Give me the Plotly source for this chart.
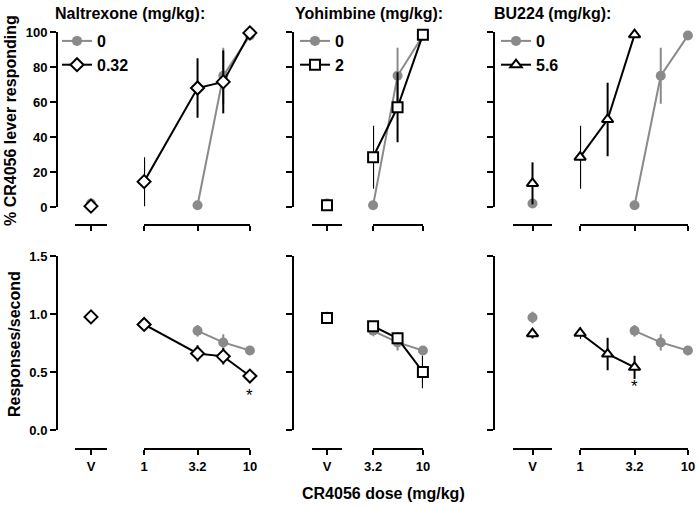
import numpy as np
import plotly.graph_objects as go

# ---------------- DATA ----------------
panel_titles = ["Naltrexone (mg/kg):", "Yohimbine (mg/kg):", "BU224 (mg/kg):"]
legend_ctrl = "0"
legend_treat = ["0.32", "2", "5.6"]

# control (vehicle pretreatment) - same in all panels
ctrl_doses = [3.2, 5.6, 10]
ctrl_pct = [1, 75, 98]
ctrl_pct_err = [0, 16, 0]
ctrl_rate = [0.855, 0.755, 0.685]
ctrl_rate_err = [0.05, 0.07, 0.04]
ctrl_v_pct = 2
ctrl_v_pct_err = 0
ctrl_v_rate = 0.97
ctrl_v_rate_err = 0.05

# Naltrexone 0.32
nal_doses = [1, 3.2, 5.6, 10]
nal_pct = [14.5, 68, 71.5, 99.5]
nal_pct_err = [14, 17, 18, 0]
nal_rate = [0.91, 0.66, 0.635, 0.465]
nal_rate_err = [0.02, 0.07, 0.07, 0.05]
nal_v_pct, nal_v_pct_err = 0.5, 0
nal_v_rate, nal_v_rate_err = 0.975, 0.05

# Yohimbine 2
yoh_doses = [3.2, 5.6, 10]
yoh_pct = [28.5, 57, 98.5]
yoh_pct_err = [18, 20, 0]
yoh_rate = [0.895, 0.79, 0.50]
yoh_rate_err = [0.03, 0.05, 0.14]
yoh_v_pct, yoh_v_pct_err = 1, 0
yoh_v_rate, yoh_v_rate_err = 0.965, 0.04

# BU224 5.6
bu_doses = [1, 1.8, 3.2]
bu_pct = [28.5, 50, 98.5]
bu_pct_err = [18, 21, 0]
bu_rate = [0.835, 0.655, 0.54]
bu_rate_err = [0.05, 0.14, 0.10]
bu_v_pct, bu_v_pct_err = 13.5, 12
bu_v_rate, bu_v_rate_err = 0.83, 0.04

pct_ticks = [0, 20, 40, 60, 80, 100]
rate_ticks = [0.0, 0.5, 1.0, 1.5]
dose_ticks = [[1, 3.2, 10], [3.2, 10], [1, 3.2, 10]]
dose_ticklabels = [["1", "3.2", "10"], ["3.2", "10"], ["1", "3.2", "10"]]
dose_min = [1, 3.2, 1]
dose_max = [10, 10, 10]
# significance marks on the rate row: (panel, dose, y)
sig_marks = [(0, 10, 0.30), (2, 3.2, 0.375)]

treat = [
    dict(doses=nal_doses, pct=nal_pct, pct_err=nal_pct_err, rate=nal_rate, rate_err=nal_rate_err,
         v_pct=nal_v_pct, v_pct_err=nal_v_pct_err, v_rate=nal_v_rate, v_rate_err=nal_v_rate_err),
    dict(doses=yoh_doses, pct=yoh_pct, pct_err=yoh_pct_err, rate=yoh_rate, rate_err=yoh_rate_err,
         v_pct=yoh_v_pct, v_pct_err=yoh_v_pct_err, v_rate=yoh_v_rate, v_rate_err=yoh_v_rate_err),
    dict(doses=bu_doses, pct=bu_pct, pct_err=bu_pct_err, rate=bu_rate, rate_err=bu_rate_err,
         v_pct=bu_v_pct, v_pct_err=bu_v_pct_err, v_rate=bu_v_rate, v_rate_err=bu_v_rate_err),
]

# ---------------- LAYOUT GEOMETRY (pixels) ----------------
W, H = 699, 506
def PX(x): return x / W
def PY(y): return 1 - y / H

yaxis_x = [57, 293, 494]
v_dom = [(75, 107), (312, 342), (513, 552)]
d_dom = [(144, 250), (373, 423), (580, 688)]
row_y = [(32, 207), (256, 430)]      # y-domain pixel (top, bottom)
row_xline = [225, 449]               # x-axis line position
symbols_fill = ["diamond", "square", "triangle-up"]
EPS = 1e-3

GRAY = "#8a8a8a"
BLACK = "#000000"
FONT = "Liberation Sans, Arial, sans-serif"

fig = go.Figure()
layout = {}

def ids(r, p):
    k = r * 3 + p
    yid = k + 1
    xv = 2 * k + 1
    xd = 2 * k + 2
    return yid, xv, xd

for r in range(2):
    for p in range(3):
        yid, xv, xd = ids(r, p)
        yname = "y" if yid == 1 else f"y{yid}"
        xvname = "x" if xv == 1 else f"x{xv}"
        xdname = f"x{xd}"
        t = treat[p]
        if r == 0:
            cv, cve = ctrl_v_pct, ctrl_v_pct_err
            cy, cye = ctrl_pct, ctrl_pct_err
            tv, tve = t["v_pct"], t["v_pct_err"]
            ty, tye = t["pct"], t["pct_err"]
        else:
            cv, cve = ctrl_v_rate, ctrl_v_rate_err
            cy, cye = ctrl_rate, ctrl_rate_err
            tv, tve = t["v_rate"], t["v_rate_err"]
            ty, tye = t["rate"], t["rate_err"]
        leg = "legend" if p == 0 else f"legend{p+1}"
        fig.add_trace(go.Scatter(x=[0], y=[cv], xaxis=xvname, yaxis=yname, mode="markers",
                                 marker=dict(symbol="circle", size=10, color=GRAY),
                                 error_y=dict(type="data", array=[cve], color=GRAY, thickness=2, width=0),
                                 showlegend=False, cliponaxis=False, hoverinfo="skip"))
        fig.add_trace(go.Scatter(x=ctrl_doses, y=cy, xaxis=xdname, yaxis=yname, mode="lines+markers",
                                 line=dict(color=GRAY, width=2),
                                 marker=dict(symbol="circle", size=10, color=GRAY),
                                 error_y=dict(type="data", array=cye, color=GRAY, thickness=2, width=0),
                                 name=legend_ctrl, legend=leg, showlegend=(r == 0),
                                 cliponaxis=False, hoverinfo="skip"))
        fig.add_trace(go.Scatter(x=[0], y=[tv], xaxis=xvname, yaxis=yname, mode="markers",
                                 marker=dict(symbol=symbols_fill[p], size=10, color="white",
                                             line=dict(color=BLACK, width=2)),
                                 error_y=dict(type="data", array=[tve], color=BLACK, thickness=2, width=0),
                                 showlegend=False, cliponaxis=False, hoverinfo="skip"))
        fig.add_trace(go.Scatter(x=t["doses"], y=ty, xaxis=xdname, yaxis=yname, mode="lines+markers",
                                 line=dict(color=BLACK, width=2),
                                 marker=dict(symbol=symbols_fill[p], size=10, color="white",
                                             line=dict(color=BLACK, width=2)),
                                 error_y=dict(type="data", array=tye, color=BLACK, thickness=2, width=0),
                                 name=legend_treat[p], legend=leg, showlegend=(r == 0),
                                 cliponaxis=False, hoverinfo="skip"))

        ytop, ybot = row_y[r]
        yax = dict(domain=[PY(ybot), PY(ytop)], anchor="free", position=PX(yaxis_x[p]),
                   showline=True, linecolor=BLACK, linewidth=2, ticks="outside", ticklen=6,
                   tickwidth=2, tickcolor=BLACK, showgrid=False, zeroline=False,
                   showticklabels=(p == 0), automargin=False,
                   tickfont=dict(family=FONT, size=13, color=BLACK, weight="bold"))
        if r == 0:
            yax.update(range=[0, 100], tickvals=pct_ticks)
        else:
            yax.update(range=[0, 1.5], tickvals=rate_ticks, tickformat=".1f")
        layout["yaxis" if yid == 1 else f"yaxis{yid}"] = yax

        common_x = dict(anchor="free", position=PY(row_xline[r]), showline=True, linecolor=BLACK,
                        linewidth=2, ticks="outside", ticklen=5, tickwidth=2, tickcolor=BLACK,
                        showgrid=False, zeroline=False, showticklabels=(r == 1), automargin=False,
                        ticklabeloverflow="allow",
                        tickfont=dict(family=FONT, size=13, color=BLACK, weight="bold"))
        xvax = dict(common_x, domain=[PX(v_dom[p][0]), PX(v_dom[p][1])], range=[-1, 1],
                    tickvals=[0], ticktext=["V"])
        xdax = dict(common_x, domain=[PX(d_dom[p][0]), PX(d_dom[p][1])], type="log",
                    range=[np.log10(dose_min[p]) - EPS, np.log10(dose_max[p]) + EPS],
                    tickvals=dose_ticks[p], ticktext=dose_ticklabels[p])
        layout["xaxis" if xv == 1 else f"xaxis{xv}"] = xvax
        layout[f"xaxis{xd}"] = xdax

annotations = []
title_x = [53, 293, 492]
for p in range(3):
    annotations.append(dict(text=panel_titles[p], x=PX(title_x[p]), y=PY(14), xref="paper", yref="paper",
                            xanchor="left", yanchor="middle", showarrow=False,
                            font=dict(family=FONT, size=16, color=BLACK, weight="bold")))
for (p, dose, yv) in sig_marks:
    yid, xv, xd = ids(1, p)
    annotations.append(dict(text="*", x=np.log10(dose), y=yv, xref=f"x{xd}", yref=f"y{yid}",
                            showarrow=False, font=dict(family=FONT, size=17, color=BLACK)))
annotations.append(dict(text="% CR4056 lever responding", x=PX(11), y=PY(121), xref="paper", yref="paper",
                        textangle=-90, showarrow=False, xanchor="center", yanchor="middle",
                        font=dict(family=FONT, size=16, color=BLACK, weight="bold")))
annotations.append(dict(text="Responses/second", x=PX(14), y=PY(344), xref="paper", yref="paper",
                        textangle=-90, showarrow=False, xanchor="center", yanchor="middle",
                        font=dict(family=FONT, size=16, color=BLACK, weight="bold")))
annotations.append(dict(text="CR4056 dose (mg/kg)", x=PX(383), y=PY(493), xref="paper", yref="paper",
                        showarrow=False, xanchor="center", yanchor="middle",
                        font=dict(family=FONT, size=16, color=BLACK, weight="bold")))

legend_x = [57, 295, 496]
for p in range(3):
    key = "legend" if p == 0 else f"legend{p+1}"
    layout[key] = dict(x=PX(legend_x[p]), y=PY(24), xanchor="left", yanchor="top",
                       bgcolor="rgba(0,0,0,0)", borderwidth=0, itemwidth=30,
                       font=dict(family=FONT, size=16, color=BLACK, weight="bold"),
                       tracegroupgap=0)

fig.update_layout(**layout)
fig.update_layout(width=W, height=H, margin=dict(l=0, r=0, t=0, b=0, pad=0, autoexpand=False),
                  plot_bgcolor="white", paper_bgcolor="white",
                  annotations=annotations, font=dict(family=FONT, color=BLACK))

fig.write_html("out.html", config={"displayModeBar": False},
               post_script="document.body.style.margin='0';")
